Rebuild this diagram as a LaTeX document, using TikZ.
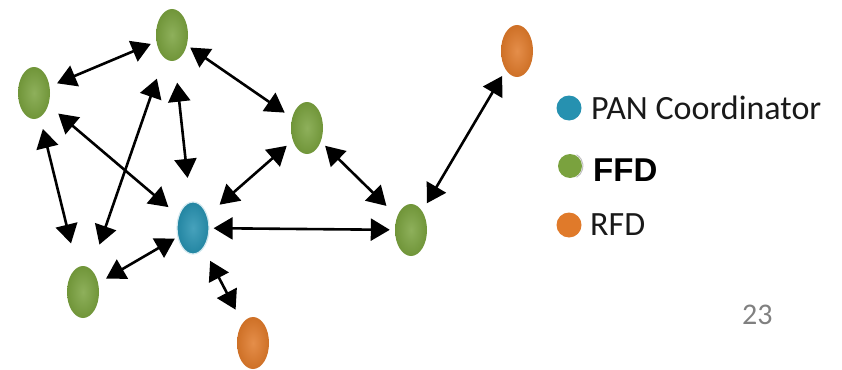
\documentclass[tikz,border=0pt]{standalone}
\usepackage{fontspec}
\setmainfont{Carlito}
\newfontfamily\boldsans{Liberation Sans}
\usepackage{tikz}
\usetikzlibrary{arrows.meta, shapes.geometric}

\definecolor{ffdgreen}{RGB}{122,162,62}
\definecolor{panblue}{RGB}{38,145,176}
\definecolor{rfdorange}{RGB}{224,122,42}

\begin{document}
\begin{tikzpicture}[x=1pt, y=-1pt,
    >={Triangle[length=19pt,width=22pt]},
    dev/.style={ellipse, minimum width=32pt, minimum height=52pt, inner sep=0pt},
    ffd/.style={dev, shading=radial, inner color=ffdgreen!85!white, outer color=ffdgreen!92!black},
    pan/.style={dev, shading=radial, inner color=panblue!85!white, outer color=panblue!92!black, draw=panblue!20, line width=1.2pt},
    rfd/.style={dev, shading=radial, inner color=rfdorange!85!white, outer color=rfdorange!92!black},
    link/.style={<->, line width=2.6pt},
    key/.style={circle, minimum width=22pt, inner sep=0pt},
    keytext/.style={anchor=west, inner sep=0pt, text=black!90, font=\fontsize{34}{36}\selectfont}]
    \useasboundingbox (0,0) rectangle (842,369);

    % devices
    \node[ffd] (A) at (172,35) {};
    \node[ffd] (B) at (34,93) {};
    \node[ffd] (C) at (307,128) {};
    \node[pan] (D) at (193,228) {};
    \node[ffd] (E) at (83,292) {};
    \node[ffd] (F) at (411,230) {};
    \node[rfd] (G) at (253,343) {};
    \node[rfd] (H) at (517,51) {};

    % links
    \draw[link, shorten <=8pt, shorten >=6pt] (B) -- (A);
    \draw[link, shorten <=4pt, shorten >=9pt] (A) -- (C);
    \draw[link, shorten <=22pt, shorten >=24pt] (A) -- (D);
    \draw[link, shorten <=22pt, shorten >=26pt] (A) -- (E);
    \draw[link, shorten <=13pt, shorten >=13pt] (B) -- (D);
    \draw[link, shorten <=12pt, shorten >=25pt] (B) -- (E);
    \draw[link, shorten <=9pt, shorten >=3pt] (E) -- (D);
    \draw[link, shorten <=8pt, shorten >=16pt] (C) -- (D);
    \draw[link, shorten <=6pt, shorten >=15pt] (C) -- (F);
    \draw[link, shorten <=4pt, shorten >=5pt] (D) -- (F);
    \draw[link, shorten <=14pt, shorten >=15pt] (D) -- (G);
    \draw[link, shorten <=9pt, shorten >=7pt] (F) -- (H);

    % legend
    \node[key, minimum height=25pt, fill=panblue] (kpan) at (569,108) {};
    \node[key, minimum height=24pt, fill=ffdgreen] (kffd) at (570,166) {};
    \draw[gray!50, line width=1pt] ([shift={(-60:13pt)}]kffd.center) arc[start angle=-60, end angle=60, radius=13pt];
    \node[key, minimum height=25pt, fill=rfdorange] (krfd) at (569,225) {};
    \node[keytext] (tpan) at (591,108) {PAN Coordinator};
    \node[keytext, text=black, font=\boldsans\bfseries\fontsize{33}{36}\selectfont] (tffd) at (593,170) {FFD};
    \node[keytext] (trfd) at (590,225) {RFD};

    \node[anchor=west, inner sep=0pt, text=black!50, font=\fontsize{30}{32}\selectfont] (page) at (742,315) {23};
\end{tikzpicture}
\end{document}
